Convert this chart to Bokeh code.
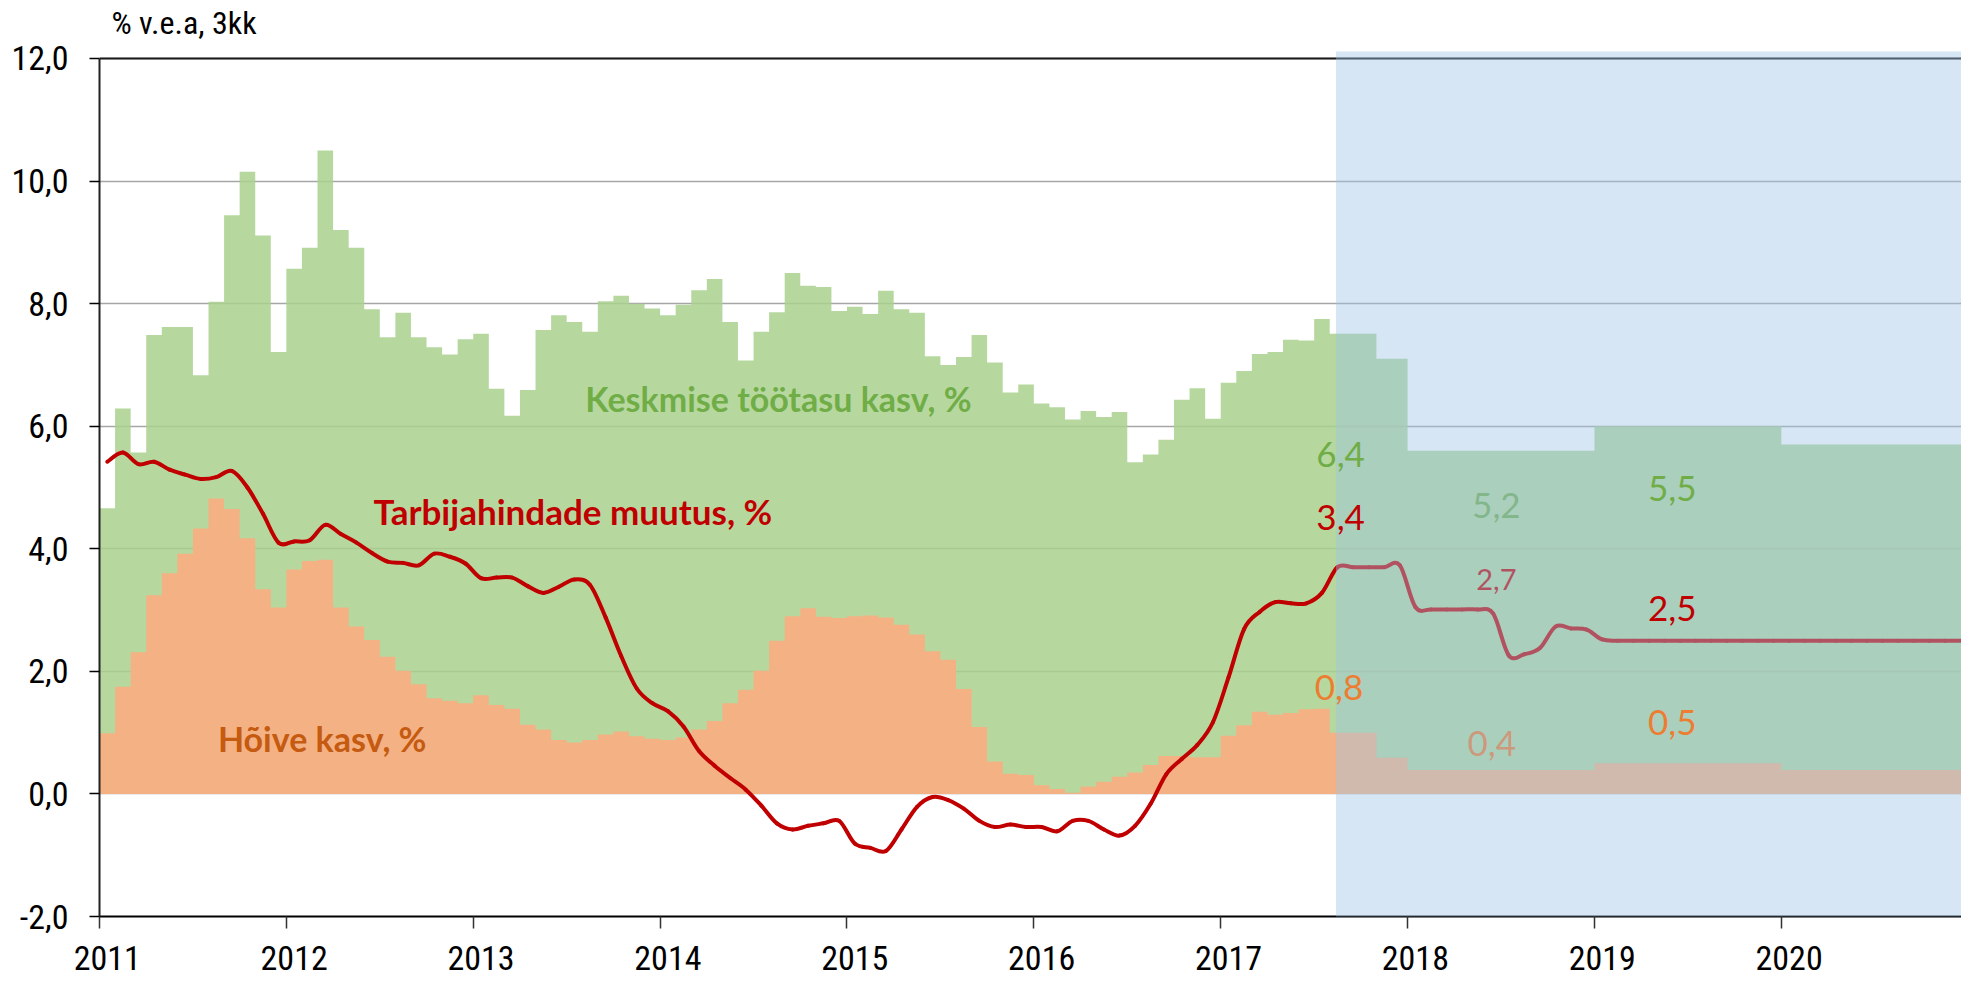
from bokeh.plotting import figure
from bokeh.models import Range1d, FixedTicker, Span, BoxAnnotation, Label
from bokeh.embed import file_html
from bokeh.resources import INLINE

# ---------------- data ----------------
years = [2011, 2012, 2013, 2014, 2015, 2016, 2017, 2018, 2019, 2020]
y_ticks = [-2, 0, 2, 4, 6, 8, 10, 12]
y_tick_labels = ["-2,0", "0,0", "2,0", "4,0", "6,0", "8,0", "10,0", "12,0"]

# Keskmise töötasu kasv, % (monthly, Jan 2011 - Jul 2017)
wage_actual = [
    4.66, 6.29, 5.57, 7.49, 7.62, 7.62, 6.83, 8.03, 9.44, 10.15, 9.11, 7.21,
    8.57, 8.91, 10.50, 9.20, 8.91, 7.91, 7.45, 7.85, 7.45, 7.29, 7.17, 7.42,
    7.51, 6.61, 6.17, 6.59, 7.57, 7.81, 7.70, 7.54, 8.04, 8.13, 8.00, 7.92,
    7.81, 7.98, 8.22, 8.40, 7.70, 7.07, 7.54, 7.86, 8.50, 8.29, 8.27, 7.88,
    7.95, 7.83, 8.21, 7.91, 7.85, 7.14, 7.00, 7.13, 7.49, 7.04, 6.55, 6.68,
    6.37, 6.31, 6.11, 6.25, 6.15, 6.23, 5.41, 5.54, 5.78, 6.43, 6.62, 6.12,
    6.71, 6.90, 7.18, 7.21, 7.41, 7.40, 7.75,
]
# forecast (Aug 2017 - Dec 2020)
wage_forecast = [7.51] * 3 + [7.10] * 2 + [5.60] * 12 + [6.00] * 12 + [5.70] * 12

# Hõive kasv, %
empl_actual = [
    0.99, 1.75, 2.31, 3.24, 3.60, 3.92, 4.33, 4.82, 4.65, 4.17, 3.34, 3.04,
    3.66, 3.80, 3.82, 3.04, 2.73, 2.51, 2.24, 2.01, 1.79, 1.56, 1.52, 1.48,
    1.61, 1.45, 1.39, 1.13, 1.05, 0.88, 0.84, 0.88, 0.97, 1.02, 0.94, 0.90,
    0.88, 0.92, 1.05, 1.19, 1.48, 1.70, 2.01, 2.50, 2.90, 3.03, 2.89, 2.87,
    2.90, 2.91, 2.88, 2.76, 2.60, 2.33, 2.19, 1.71, 1.09, 0.53, 0.33, 0.31,
    0.14, 0.08, 0.02, 0.12, 0.20, 0.28, 0.35, 0.47, 0.62, 0.62, 0.60, 0.60,
    0.95, 1.12, 1.34, 1.29, 1.32, 1.38, 1.39,
]
empl_forecast = [1.00] * 3 + [0.59] * 2 + [0.39] * 12 + [0.50] * 12 + [0.39] * 12

# Tarbijahindade muutus, % (monthly, Jan 2011 - Dec 2020)
cpi = [
    5.42, 5.57, 5.38, 5.42, 5.29, 5.21, 5.14, 5.17, 5.27, 5.00, 4.57, 4.10,
    4.12, 4.14, 4.39, 4.24, 4.10, 3.93, 3.79, 3.77, 3.73, 3.92, 3.87, 3.76,
    3.52, 3.53, 3.53, 3.39, 3.28, 3.38, 3.50, 3.41, 2.88, 2.25, 1.72, 1.48,
    1.35, 1.10, 0.70, 0.46, 0.26, 0.07, -0.19, -0.48, -0.58, -0.52, -0.48, -0.44,
    -0.81, -0.88, -0.93, -0.58, -0.21, -0.05, -0.10, -0.24, -0.44, -0.54, -0.50, -0.54,
    -0.54, -0.61, -0.44, -0.44, -0.58, -0.68, -0.52, -0.16, 0.32, 0.57, 0.80, 1.17,
    1.90, 2.69, 2.97, 3.13, 3.11, 3.11, 3.28, 3.70, 3.70, 3.70, 3.70, 3.73,
    3.05, 3.01, 3.01, 3.01, 3.01, 2.94, 2.26, 2.28, 2.38, 2.73, 2.70, 2.68,
    2.52, 2.50, 2.50, 2.50, 2.50, 2.50, 2.50, 2.50, 2.50, 2.50, 2.50, 2.50,
    2.50, 2.50, 2.50, 2.50, 2.50, 2.50, 2.50, 2.50, 2.50, 2.50, 2.50, 2.50,
]

# ---------------- derived ----------------
wage = wage_actual + wage_forecast
empl = empl_actual + empl_forecast
n = len(wage)
x_step = list(range(n + 1))               # month edges (0 = start of Jan 2011)
wage_step = wage + [wage[-1]]
empl_step = empl + [empl[-1]]
x_mid = [i + 0.5 for i in range(len(cpi))]
forecast_start = len(wage_actual) + 0.4

# smoothed-line rendering (Catmull-Rom style bezier segments through the points)
bz = {k: [] for k in ("x0", "y0", "x1", "y1", "cx0", "cy0", "cx1", "cy1")}
m = len(x_mid)
for i in range(m - 1):
    a = max(i - 1, 0)
    d = min(i + 2, m - 1)
    bz["x0"].append(x_mid[i]); bz["y0"].append(cpi[i])
    bz["x1"].append(x_mid[i + 1]); bz["y1"].append(cpi[i + 1])
    bz["cx0"].append(x_mid[i] + (x_mid[i + 1] - x_mid[a]) / 6)
    bz["cy0"].append(cpi[i] + (cpi[i + 1] - cpi[a]) / 6)
    bz["cx1"].append(x_mid[i + 1] - (x_mid[d] - x_mid[i]) / 6)
    bz["cy1"].append(cpi[i + 1] - (cpi[d] - cpi[i]) / 6)

TICK_FONT = "Roboto Condensed"
LAB_FONT = "Lato"

W, H = 1961, 991
# the frame reaches the top of the canvas so that the unit caption can sit
# inside it; the visible value axis is bounded to -2 ... 12
p = figure(width=W, height=H, output_backend="svg", toolbar_location=None,
           x_range=Range1d(0, 119.57), y_range=Range1d(-2, 12.946),
           min_border_left=99, min_border_right=0, min_border_top=0,
           min_border_bottom=75, background_fill_color="white",
           border_fill_color="white")
p.outline_line_color = None

# grid
p.xgrid.visible = False
p.ygrid.ticker = FixedTicker(ticks=y_ticks)
p.ygrid.grid_line_color = "#A6A6A6"
p.ygrid.grid_line_width = 1.5

# areas
p.varea_step(x=x_step, y1=0, y2=wage_step, step_mode="after",
             fill_color="#A9D18E", fill_alpha=0.85)
p.varea_step(x=x_step, y1=0, y2=empl_step, step_mode="after",
             fill_color="#F4B183", fill_alpha=1.0)
# CPI line
p.bezier(line_color="#C00000", line_width=4, line_cap="round", **bz)

# top border of the chart area
p.add_layout(Span(location=y_ticks[-1], dimension="width", line_color="#1a1a1a",
                  line_width=2, level="underlay"))

# y axis
ya = p.yaxis[0]
ya.ticker = FixedTicker(ticks=y_ticks)
ya.bounds = (y_ticks[0], y_ticks[-1])
ya.major_label_overrides = {t: s for t, s in zip(y_ticks, y_tick_labels)}
ya.minor_tick_line_color = None
ya.major_tick_out = 10
ya.major_tick_in = 0
ya.major_tick_line_color = "black"
ya.major_tick_line_width = 1.5
ya.axis_line_color = "#222222"
ya.axis_line_width = 2
ya.major_label_standoff = 21
ya.major_label_text_font = TICK_FONT
ya.major_label_text_font_size = "34px"
ya.major_label_text_color = "black"

# x axis: labels centred on mid-January, tick marks at year boundaries
xa = p.xaxis[0]
xa.ticker = FixedTicker(ticks=[12 * i + 0.5 for i in range(len(years))],
                        minor_ticks=[12 * i for i in range(len(years) + 1)])
xa.major_label_overrides = {12 * i + 0.5: str(y) for i, y in enumerate(years)}
xa.major_tick_line_color = None
xa.major_tick_out = 12
xa.major_tick_in = 0
xa.minor_tick_out = 12
xa.minor_tick_in = 0
xa.minor_tick_line_color = "#333333"
xa.minor_tick_line_width = 1.5
xa.axis_line_color = "black"
xa.axis_line_width = 2
xa.major_label_standoff = 17
xa.major_label_text_font = TICK_FONT
xa.major_label_text_font_size = "34px"
xa.major_label_text_color = "black"

# unit caption (top left)
p.add_layout(Label(x=0.77, y=12.58, text="% v.e.a, 3kk", text_font=TICK_FONT,
                   text_font_size="32px", text_color="black",
                   text_align="left", text_baseline="middle"))


def lab(x, y, text, color, size="35px", bold=False, level="annotation"):
    p.add_layout(Label(x=x, y=y, text=text, text_color=color,
                       text_font=LAB_FONT, text_font_size=size,
                       text_font_style="bold" if bold else "normal",
                       text_align="center", text_baseline="middle",
                       level=level))


# series names
lab(43.6, 6.46, "Keskmise töötasu kasv, %", "#70AD47", "34px", True)
lab(30.4, 4.61, "Tarbijahindade muutus, %", "#C00000", "35px", True)
lab(14.3, 0.90, "Hõive kasv, %", "#C55A11", "34px", True)

# values beneath the forecast shading
lab(89.7, 4.70, "5,2", "#70AD47", "35px", level="glyph")
lab(89.7, 3.50, "2,7", "#C00000", "29px", level="glyph")
lab(89.4, 0.82, "0,4", "#ED7D31", "35px", level="glyph")

# forecast shading
p.add_layout(BoxAnnotation(left=forecast_start, right=125, left_units="data",
                           right_units="data", top=51, top_units="canvas",
                           bottom=H, bottom_units="canvas",
                           fill_color="#9DC3E6", fill_alpha=0.42,
                           line_color=None))

# values above the shading
lab(79.7, 5.54, "6,4", "#70AD47", "35px", level="overlay")
lab(79.7, 4.51, "3,4", "#C00000", "35px", level="overlay")
lab(79.6, 1.74, "0,8", "#ED7D31", "35px", level="overlay")
lab(101.0, 4.99, "5,5", "#70AD47", "35px", level="overlay")
lab(101.0, 3.02, "2,5", "#C00000", "35px", level="overlay")
lab(101.0, 1.17, "0,5", "#ED7D31", "35px", level="overlay")

open("out.html", "w").write(file_html(p, INLINE))
